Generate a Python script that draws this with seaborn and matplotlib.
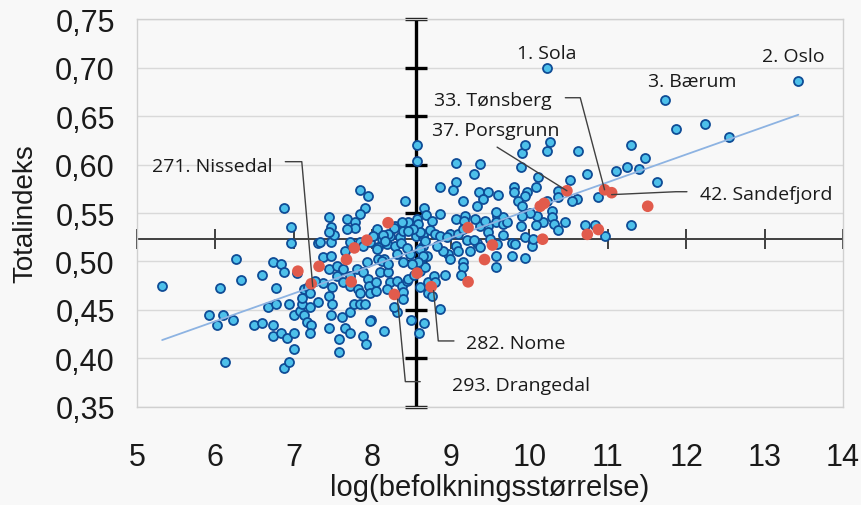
import numpy as np
import matplotlib
matplotlib.use("Agg")
import matplotlib.pyplot as plt
import seaborn as sns

# log(population) and total index
blue_x = [5.32, 6.06, 6.26, 6.33, 5.92, 6.10, 6.02, 6.22, 6.12, 6.49, 6.59, 6.59, 6.73, 6.77,
          6.67, 6.77, 6.73, 6.73, 6.84, 6.91, 6.87, 6.94, 7.00, 6.84, 6.87, 6.87, 6.96, 6.96,
          7.00, 7.04, 6.94, 7.00,
          7.08, 7.10, 7.13, 7.17, 7.22, 7.21, 7.21, 7.31, 7.10, 7.13, 7.18, 7.37, 7.31, 7.37,
          7.45, 7.47, 7.47, 7.45, 7.47, 7.51, 7.45, 7.84, 7.95, 7.91, 7.84, 7.68, 7.78, 7.78,
          7.68, 7.55, 7.65, 7.55, 7.49, 7.45, 7.49, 7.47, 7.61, 7.72, 7.76, 7.84, 7.91, 7.45,
          7.58, 7.58, 7.65, 7.72, 7.88, 7.92, 7.63, 7.72, 7.82, 7.72, 7.81, 7.88, 7.95, 7.93,
          7.96, 7.97, 7.84, 7.63, 7.27, 7.21, 7.33, 7.84, 7.72, 7.88,
          8.06, 8.42, 8.66, 8.05, 8.10, 8.20, 8.23, 8.32, 8.38, 8.44, 8.39, 8.32, 8.39, 8.49,
          8.60, 8.66, 8.07, 8.15, 8.07, 8.12, 8.19, 8.29, 8.35, 8.23, 8.29, 8.39, 8.39, 8.46,
          8.57, 8.58, 8.55, 8.65, 8.65, 8.70, 8.61, 8.61, 8.67, 8.61, 8.71, 8.71, 8.06, 7.97,
          7.98, 8.15, 8.38, 8.57, 8.57, 8.27, 8.20, 8.14, 8.01, 8.65, 8.16, 8.32, 8.39, 8.12,
          8.04, 8.19, 8.46, 8.27, 7.97, 8.48, 8.20, 8.61, 8.65, 8.58, 8.67, 8.61,
          8.52, 8.45, 8.36, 8.50, 8.68, 8.74, 8.44, 8.53,
          9.07, 9.07, 9.03, 8.86, 9.15, 8.86, 8.76, 9.07, 9.18, 9.17, 8.80, 8.86, 8.99, 9.09,
          9.16, 9.30, 9.37, 9.36, 9.48, 9.60, 9.41, 9.34, 9.59, 9.67, 9.57, 9.67, 9.48, 9.37,
          9.31, 9.48, 9.66, 9.50, 9.34, 9.58, 9.44, 8.95, 9.06, 9.21, 9.29, 9.25, 9.37, 9.59,
          8.97, 8.99, 9.16, 9.15, 9.57, 9.57, 8.93, 9.13, 8.78, 8.76, 8.86, 9.09, 8.90, 8.83,
          8.80,
          10.22, 9.89, 9.91, 9.95, 10.22, 10.26, 10.62, 10.73, 10.52, 9.81, 9.81, 9.97, 10.09,
          10.11, 10.36, 10.37, 10.87, 9.95, 9.85, 9.91, 10.23, 10.29, 10.61, 10.29, 10.18,
          10.10, 10.01, 9.91, 9.89, 10.08, 10.32, 10.46, 10.36, 10.71, 10.84, 9.78, 9.95,
          10.04, 10.55, 9.72, 9.82, 10.05, 9.78, 9.95,
          13.43, 11.73, 11.87, 12.24, 12.55, 11.10, 11.24, 11.30, 11.40, 11.47, 11.63, 10.96,
          11.30]
blue_y = [0.475, 0.473, 0.503, 0.481, 0.445, 0.445, 0.434, 0.440, 0.396, 0.434, 0.437, 0.486,
          0.499, 0.473, 0.453, 0.456, 0.434, 0.423, 0.426, 0.421, 0.390, 0.396, 0.410, 0.497,
          0.489, 0.555, 0.536, 0.519, 0.426, 0.488, 0.456, 0.445,
          0.449, 0.456, 0.445, 0.438, 0.434, 0.426, 0.453, 0.458, 0.462, 0.472, 0.474, 0.478,
          0.519, 0.505, 0.492, 0.506, 0.520, 0.546, 0.536, 0.527, 0.530, 0.574, 0.568, 0.555,
          0.549, 0.544, 0.541, 0.535, 0.534, 0.495, 0.511, 0.485, 0.474, 0.464, 0.456, 0.445,
          0.443, 0.448, 0.456, 0.456, 0.456, 0.431, 0.420, 0.407, 0.431, 0.426, 0.423, 0.415,
          0.479, 0.475, 0.472, 0.485, 0.492, 0.489, 0.482, 0.499, 0.475, 0.467, 0.467, 0.492,
          0.480, 0.467, 0.520, 0.520, 0.520, 0.516,
          0.534, 0.562, 0.555, 0.470, 0.489, 0.489, 0.479, 0.480, 0.475, 0.480, 0.469, 0.448,
          0.461, 0.440, 0.426, 0.437, 0.503, 0.503, 0.515, 0.523, 0.518, 0.516, 0.525, 0.526,
          0.537, 0.537, 0.531, 0.541, 0.544, 0.539, 0.526, 0.525, 0.516, 0.506, 0.501, 0.490,
          0.494, 0.474, 0.479, 0.467, 0.513, 0.520, 0.440, 0.428, 0.541, 0.620, 0.604, 0.535,
          0.528, 0.527, 0.526, 0.528, 0.521, 0.508, 0.499, 0.501, 0.479, 0.472, 0.482, 0.453,
          0.439, 0.508, 0.497, 0.513, 0.506, 0.499, 0.521, 0.530,
          0.534, 0.531, 0.519, 0.497, 0.548, 0.533, 0.514, 0.486,
          0.602, 0.582, 0.574, 0.577, 0.562, 0.549, 0.542, 0.544, 0.547, 0.542, 0.528, 0.526,
          0.528, 0.528, 0.534, 0.590, 0.601, 0.572, 0.572, 0.569, 0.564, 0.557, 0.547, 0.546,
          0.541, 0.539, 0.537, 0.537, 0.544, 0.530, 0.527, 0.523, 0.519, 0.551, 0.542, 0.525,
          0.516, 0.522, 0.522, 0.511, 0.515, 0.518, 0.508, 0.503, 0.499, 0.494, 0.506, 0.494,
          0.486, 0.486, 0.485, 0.464, 0.451, 0.511, 0.511, 0.516, 0.479,
          0.700, 0.598, 0.612, 0.620, 0.614, 0.623, 0.614, 0.590, 0.584, 0.577, 0.572, 0.572,
          0.577, 0.587, 0.573, 0.567, 0.567, 0.568, 0.562, 0.557, 0.562, 0.552, 0.564, 0.546,
          0.541, 0.547, 0.550, 0.547, 0.537, 0.538, 0.539, 0.541, 0.532, 0.538, 0.538, 0.519,
          0.525, 0.516, 0.562, 0.541, 0.518, 0.523, 0.506, 0.504,
          0.686, 0.667, 0.637, 0.642, 0.628, 0.593, 0.598, 0.620, 0.595, 0.607, 0.582, 0.526,
          0.538]

# highlighted municipalities (red)
red_x = [8.20, 7.93, 7.77, 7.67, 7.32, 7.05, 7.22, 7.73, 8.28, 8.57, 8.75, 9.22, 9.53, 9.43,
         9.22, 10.17, 10.74, 10.88, 11.51, 10.14, 10.19, 10.48, 10.96, 11.05]
red_y = [0.540, 0.522, 0.514, 0.502, 0.495, 0.490, 0.477, 0.479, 0.466, 0.488, 0.474, 0.535,
         0.517, 0.502, 0.479, 0.523, 0.528, 0.533, 0.557, 0.557, 0.560, 0.573, 0.574, 0.571]

x_ticks = [5, 6, 7, 8, 9, 10, 11, 12, 13, 14]
y_ticks = [0.35, 0.40, 0.45, 0.50, 0.55, 0.60, 0.65, 0.70, 0.75]
y_tick_labels = ["0,35", "0,40", "0,45", "0,50", "0,55", "0,60", "0,65", "0,70", "0,75"]
x_cross = 8.55   # where the vertical axis crosses
y_cross = 0.523  # where the horizontal axis crosses

labels = ["1. Sola", "2. Oslo", "3. Bærum", "33. Tønsberg", "37. Porsgrunn",
          "42. Sandefjord", "271. Nissedal", "282. Nome", "293. Drangedal"]

# label position and leader line path (data coords)
label_layout = {
    "1. Sola": ((10.22, 0.715), None),
    "2. Oslo": ((13.37, 0.712), None),
    "3. Bærum": ((12.08, 0.686), None),
    "33. Tønsberg": ((9.53, 0.667), [(10.46, 0.669), (10.65, 0.669), (10.96, 0.574)]),
    "37. Porsgrunn": ((9.57, 0.636), [(9.59, 0.618), (10.48, 0.573)]),
    "42. Sandefjord": ((13.02, 0.570), [(11.05, 0.569), (11.87, 0.572), (12.01, 0.572)]),
    "271. Nissedal": ((5.96, 0.599), [(6.89, 0.603), (7.10, 0.603), (7.24, 0.474)]),
    "282. Nome": ((9.83, 0.416), [(9.04, 0.418), (8.84, 0.418), (8.78, 0.470)]),
    "293. Drangedal": ((9.90, 0.373), [(8.61, 0.376), (8.42, 0.376), (8.32, 0.461)]),
}

BG = "#f8f8f8"
AX_FONT = ["Liberation Sans", "DejaVu Sans"]
ANN_FONT = ["Open Sans", "DejaVu Sans"]

sns.set_style("white")

fig, ax = plt.subplots(figsize=(8.62, 5.06), dpi=100)
fig.patch.set_facecolor(BG)
ax.set_facecolor(BG)
fig.subplots_adjust(left=0.159, right=0.978, top=0.960, bottom=0.194)

# gridlines
for yt in y_ticks:
    ax.axhline(yt, color="#d9d9d9", lw=1.0, zorder=0)

# crossing axes with ticks
ax.axvline(x_cross, color="black", lw=2.4, zorder=2)
ax.plot([x_cross] * len(y_ticks), y_ticks, ls="none", marker="_", ms=16, mew=2.4,
        color="black", zorder=2, clip_on=False)
ax.axhline(y_cross, color="#404040", lw=1.4, zorder=2)
ax.plot(x_ticks, [y_cross] * len(x_ticks), ls="none", marker="|", ms=14, mew=1.4,
        color="#404040", zorder=2, clip_on=False)

sns.scatterplot(x=blue_x, y=blue_y, ax=ax, s=42, color="#4dc0ea", edgecolor="#0f4c96",
                linewidth=1.3, zorder=3)
sns.regplot(x=np.array(blue_x + red_x), y=np.array(blue_y + red_y), ax=ax, scatter=False,
            ci=None, line_kws=dict(color="#8db3e2", lw=1.3, zorder=4))
sns.scatterplot(x=red_x, y=red_y, ax=ax, s=70, color="#e15b4c", edgecolor="none",
                linewidth=0, zorder=5)

for name in labels:
    (tx, ty), path = label_layout[name]
    ax.text(tx, ty, name, ha="center", va="center", fontsize=14, family=ANN_FONT,
            color="#1a1a1a", zorder=6)
    if path:
        px, py = zip(*path)
        ax.plot(px, py, color="#404040", lw=1.0, zorder=6)

ax.set_xlim(5, 14)
ax.set_ylim(0.35, 0.75)
ax.set_xticks(x_ticks)
ax.set_xticklabels([str(v) for v in x_ticks], family=AX_FONT, fontsize=22)
ax.set_yticks(y_ticks)
ax.set_yticklabels(y_tick_labels, family=AX_FONT, fontsize=22)
ax.tick_params(axis="x", length=0, pad=25, colors="#1a1a1a")
ax.tick_params(axis="y", length=0, pad=16, colors="#1a1a1a")
ax.set_xlabel("log(befolkningsstørrelse)", family=AX_FONT, fontsize=21, labelpad=1,
              color="#1a1a1a")
ax.set_ylabel("Totalindeks", family=AX_FONT, fontsize=20, labelpad=12, color="#1a1a1a")

for sp in ax.spines.values():
    sp.set_color("#d0d0d0")
    sp.set_linewidth(1.0)
ax.grid(False)

fig.savefig("out.png", dpi=100, facecolor=BG)
